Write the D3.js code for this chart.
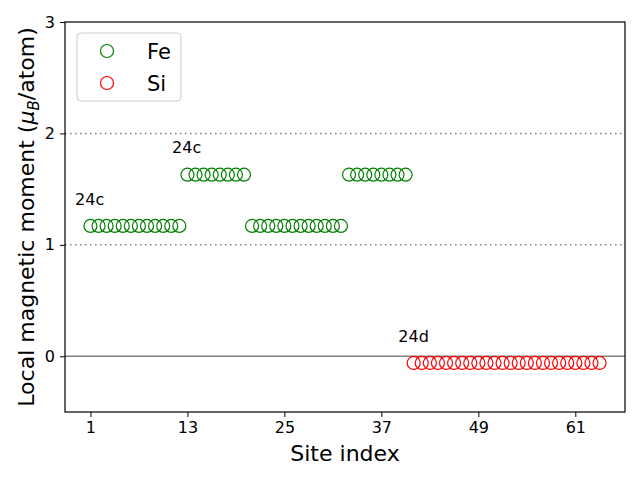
<!DOCTYPE html>
<html><head><meta charset="utf-8">
<script src="https://cdn.jsdelivr.net/npm/d3@7"></script>
<style>body{margin:0;background:#fff;font-family:"DejaVu Sans",sans-serif;}</style>
</head><body><svg id="c" width="640" height="480"></svg>
<script>
const feSites = d3.range(1, 41);
const feMoments = [
  1.17,1.17,1.17,1.17,1.17,1.17,1.17,1.17,1.17,1.17,1.17,1.17,
  1.63,1.63,1.63,1.63,1.63,1.63,1.63,1.63,
  1.17,1.17,1.17,1.17,1.17,1.17,1.17,1.17,1.17,1.17,1.17,1.17,
  1.63,1.63,1.63,1.63,1.63,1.63,1.63,1.63];
const siSites = d3.range(41, 65);
const siMoments = Array(24).fill(-0.06);
const xTicks = [1,13,25,37,49,61];
const yTicks = [0,1,2,3];
const annotations = [
  {text:"24c", x:-0.9, y:1.36},
  {text:"24c", x:11.1, y:1.82},
  {text:"24d", x:39.1, y:0.13}
];

const svg = d3.select("#c");
const L=65, R=625, T=22, B=412;
const x = d3.scaleLinear().domain([-2.15, 67.15]).range([L, R]);
const y = d3.scaleLinear().domain([-0.5, 3]).range([B, T]);

// reference lines
[1,2].forEach(v=>{
  svg.append("line").attr("x1",L).attr("x2",R).attr("y1",y(v)).attr("y2",y(v))
    .attr("stroke","#808080").attr("stroke-width",1.5).attr("stroke-dasharray","1.5,3.5");
});
svg.append("line").attr("x1",L).attr("x2",R).attr("y1",y(0)).attr("y2",y(0))
  .attr("stroke","#808080").attr("stroke-width",1.6);

// points
svg.append("g").selectAll("circle").data(feSites.map((s,i)=>[s,feMoments[i]])).join("circle")
  .attr("cx",d=>x(d[0])).attr("cy",d=>y(d[1])).attr("r",6.5)
  .attr("fill","none").attr("stroke","green").attr("stroke-width",1.2);
svg.append("g").selectAll("circle").data(siSites.map((s,i)=>[s,siMoments[i]])).join("circle")
  .attr("cx",d=>x(d[0])).attr("cy",d=>y(d[1])).attr("r",6.5)
  .attr("fill","none").attr("stroke","red").attr("stroke-width",1.2);

// annotations
annotations.forEach(a=>{
  svg.append("text").attr("x",x(a.x)).attr("y",y(a.y)).text(a.text)
    .attr("font-size",16).attr("fill","#000");
});

// axes
const xa = svg.append("g").attr("transform",`translate(0,${B})`)
  .call(d3.axisBottom(x).tickValues(xTicks).tickFormat(d3.format("d")).tickSize(5).tickPadding(5).tickSizeOuter(0));
const ya = svg.append("g").attr("transform",`translate(${L},0)`)
  .call(d3.axisLeft(y).tickValues(yTicks).tickFormat(d3.format("d")).tickSize(5).tickPadding(5).tickSizeOuter(0));
[xa,ya].forEach(g=>{
  g.select(".domain").remove();
  g.selectAll("text").attr("font-size",16).attr("font-family","DejaVu Sans").attr("fill","#000");
  g.selectAll("line").attr("stroke","#000").attr("stroke-width",1);
});
svg.append("rect").attr("x",L).attr("y",T).attr("width",R-L).attr("height",B-T)
  .attr("fill","none").attr("stroke","#000").attr("stroke-width",1.2);

// axis labels
svg.append("text").attr("x",(L+R)/2).attr("y",461).attr("text-anchor","middle")
  .attr("font-size",22).text("Site index");
const yl = svg.append("text").attr("transform",`translate(34,${(T+B)/2}) rotate(-90)`)
  .attr("text-anchor","middle").attr("font-size",22);
yl.append("tspan").text("Local magnetic moment (");
yl.append("tspan").attr("font-style","italic").text("μ");
yl.append("tspan").attr("font-style","italic").attr("font-size",15).attr("dy",5).text("B");
yl.append("tspan").attr("dy",-5).text("/atom)");

// legend
const lg = svg.append("g");
lg.append("rect").attr("x",77).attr("y",33).attr("width",104).attr("height",68).attr("rx",4)
  .attr("fill","#fff").attr("fill-opacity",0.8).attr("stroke","#ccc").attr("stroke-width",1);
[["Fe","green",51],["Si","red",83]].forEach(([n,c,yy])=>{
  lg.append("circle").attr("cx",107).attr("cy",yy).attr("r",6.5).attr("fill","none")
    .attr("stroke",c).attr("stroke-width",1.2);
  lg.append("text").attr("x",147).attr("y",yy+7.5).attr("font-size",21).text(n);
});
</script></body></html>
